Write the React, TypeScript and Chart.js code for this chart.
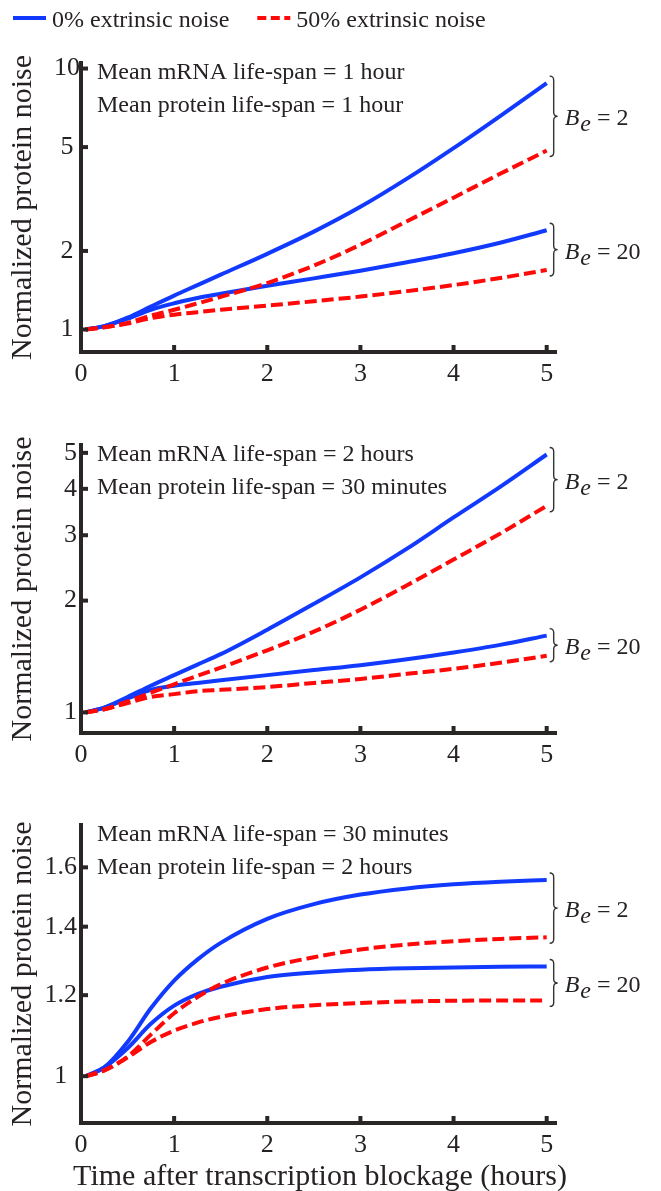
import React, { useEffect, useRef } from "react";
import { Chart, registerables } from "chart.js";

Chart.register(...registerables);

// ---------- data ----------
const TIME = [0.05, 0.25, 0.5, 0.75, 1, 1.25, 1.5, 2, 2.5, 3, 3.5, 4, 4.5, 5];
const X_TICKS = [0, 1, 2, 3, 4, 5];

// Panel 1: mRNA 1 h, protein 1 h
const P1_BE2_NOISE0 = [1.0, 1.03, 1.11, 1.224, 1.349, 1.479, 1.622, 1.95, 2.371, 2.951, 3.784, 4.955, 6.577, 8.79];
const P1_BE2_NOISE50 = [1.0, 1.02, 1.06, 1.13, 1.19, 1.259, 1.334, 1.507, 1.758, 2.113, 2.6, 3.2, 3.95, 4.85];
const P1_BE20_NOISE0 = [1.0, 1.03, 1.1, 1.19, 1.26, 1.32, 1.37, 1.47, 1.57, 1.68, 1.81, 1.96, 2.15, 2.4];
const P1_BE20_NOISE50 = [1.0, 1.02, 1.055, 1.105, 1.14, 1.165, 1.19, 1.235, 1.283, 1.337, 1.403, 1.48, 1.575, 1.69];
const P1_Y_TICKS = [1, 2, 5, 10];

// Panel 2: mRNA 2 h, protein 30 min
const P2_BE2_NOISE0 = [1.0, 1.03, 1.1, 1.18, 1.26, 1.345, 1.435, 1.67, 1.96, 2.31, 2.76, 3.35, 4.05, 4.95];
const P2_BE2_NOISE50 = [1.0, 1.02, 1.07, 1.13, 1.19, 1.255, 1.32, 1.47, 1.65, 1.89, 2.2, 2.58, 3.03, 3.6];
const P2_BE20_NOISE0 = [1.0, 1.03, 1.09, 1.15, 1.18, 1.2, 1.22, 1.26, 1.3, 1.34, 1.39, 1.45, 1.52, 1.61];
const P2_BE20_NOISE50 = [1.0, 1.02, 1.06, 1.1, 1.12, 1.14, 1.15, 1.17, 1.2, 1.23, 1.27, 1.31, 1.36, 1.42];
const P2_Y_TICKS = [1, 2, 3, 4, 5];

// Panel 3: mRNA 30 min, protein 2 h
const P3_BE2_NOISE0 = [1.0, 1.02, 1.08, 1.165, 1.24, 1.3, 1.35, 1.425, 1.473, 1.505, 1.526, 1.54, 1.549, 1.555];
const P3_BE2_NOISE50 = [1.0, 1.013, 1.045, 1.098, 1.152, 1.195, 1.23, 1.277, 1.307, 1.33, 1.345, 1.355, 1.362, 1.367];
const P3_BE20_NOISE0 = [1.0, 1.02, 1.065, 1.125, 1.172, 1.203, 1.223, 1.25, 1.263, 1.271, 1.275, 1.277, 1.279, 1.28];
const P3_BE20_NOISE50 = [1.0, 1.013, 1.043, 1.08, 1.108, 1.128, 1.143, 1.163, 1.173, 1.179, 1.183, 1.185, 1.186, 1.186];
const P3_Y_TICKS = [1, 1.2, 1.4, 1.6];

const P1_NOTES = ["Mean mRNA life-span = 1 hour", "Mean protein life-span = 1 hour"];
const P2_NOTES = ["Mean mRNA life-span = 2 hours", "Mean protein life-span = 30 minutes"];
const P3_NOTES = ["Mean mRNA life-span = 30 minutes", "Mean protein life-span = 2 hours"];

const LEGEND_LABELS = ["0% extrinsic noise", "50% extrinsic noise"];
const BRACE_VALUES = ["2", "20"];
const Y_TITLE = "Normalized protein noise";
const X_TITLE = "Time after transcription blockage (hours)";

// ---------- styles ----------
const FONT = '"Liberation Serif", "Times New Roman", serif';
const TEXT = "#262223";
const AXIS = "#2b2626";
const BLUE = "rgb(18, 58, 255)";
const RED = "rgb(255, 8, 8)";
const DASH = [12, 5];

type PanelCfg = {
  top: number;
  height: number;
  padTop: number;
  xHeight: number;
  yMin: number;
  yMax: number;
  yTicks: number[];
  yPad: number;
  be2: [number[], number[]];
  be20: [number[], number[]];
  notes: string[];
  legend: boolean;
  xTitle: boolean;
};

const PANELS: PanelCfg[] = [
  {
    top: 0, height: 400, padTop: 63, xHeight: 48, yMin: 0.82, yMax: 10.5, yTicks: P1_Y_TICKS, yPad: 1,
    be2: [P1_BE2_NOISE0, P1_BE2_NOISE50], be20: [P1_BE20_NOISE0, P1_BE20_NOISE50],
    notes: P1_NOTES, legend: true, xTitle: false,
  },
  {
    top: 400, height: 380, padTop: 45, xHeight: 47, yMin: 0.88, yMax: 5.25, yTicks: P2_Y_TICKS, yPad: 4,
    be2: [P2_BE2_NOISE0, P2_BE2_NOISE50], be20: [P2_BE20_NOISE0, P2_BE20_NOISE50],
    notes: P2_NOTES, legend: false, xTitle: false,
  },
  {
    top: 780, height: 411, padTop: 45, xHeight: 68, yMin: 0.9, yMax: 1.76, yTicks: P3_Y_TICKS, yPad: 4,
    be2: [P3_BE2_NOISE0, P3_BE2_NOISE50], be20: [P3_BE20_NOISE0, P3_BE20_NOISE50],
    notes: P3_NOTES, legend: false, xTitle: true,
  },
];

function drawBrace(ctx: CanvasRenderingContext2D, x: number, top: number, bottom: number) {
  const mid = (top + bottom) / 2;
  const r = 4;
  ctx.beginPath();
  ctx.moveTo(x - 4, top);
  ctx.quadraticCurveTo(x, top, x, top + r);
  ctx.lineTo(x, mid - r);
  ctx.quadraticCurveTo(x, mid, x + r, mid);
  ctx.quadraticCurveTo(x, mid, x, mid + r);
  ctx.lineTo(x, bottom - r);
  ctx.quadraticCurveTo(x, bottom, x - 4, bottom);
  ctx.stroke();
}

const decorPlugin = {
  id: "decor",
  afterDraw(chart: any, _args: any, opts: any) {
    const ctx: CanvasRenderingContext2D = chart.ctx;
    const area = chart.chartArea;
    const xs = chart.scales.x;
    const ys = chart.scales.y;
    ctx.save();

    // inward tick marks
    ctx.fillStyle = AXIS;
    for (const v of opts.yTicks as number[]) {
      const py = ys.getPixelForValue(v);
      ctx.fillRect(area.left, py - 2, 7, 4);
    }
    for (const v of X_TICKS) {
      if (v === 0) continue;
      const px = xs.getPixelForValue(v);
      ctx.fillRect(px - 2, area.bottom - 7, 4, 7);
    }

    // notes
    ctx.fillStyle = TEXT;
    ctx.font = `24px ${FONT}`;
    ctx.textAlign = "left";
    ctx.textBaseline = "alphabetic";
    (opts.notes as string[]).forEach((t, i) => {
      ctx.fillText(t, area.left + 16, area.top + 16 + i * 33);
    });

    // braces
    ctx.strokeStyle = "#333";
    ctx.lineWidth = 1.4;
    const groups: [number[], number[]][] = [opts.be2, opts.be20];
    groups.forEach((g, gi) => {
      const a = ys.getPixelForValue(g[0][g[0].length - 1]);
      const b = ys.getPixelForValue(g[1][g[1].length - 1]);
      const top = Math.min(a, b) - 7;
      const bottom = Math.max(a, b) + 6;
      const bx = xs.getPixelForValue(5) + 7;
      drawBrace(ctx, bx, top, bottom);
      const mid = (top + bottom) / 2;
      let tx = bx + 11;
      const base = mid + 9;
      ctx.fillStyle = TEXT;
      ctx.font = `italic 24px ${FONT}`;
      ctx.fillText("B", tx, base);
      tx += ctx.measureText("B").width + 1;
      ctx.fillText("e", tx, base + 6);
      tx += ctx.measureText("e").width;
      ctx.font = `24px ${FONT}`;
      ctx.fillText(" = " + BRACE_VALUES[gi], tx, base);
    });

    // legend
    if (opts.legend) {
      ctx.font = `24px ${FONT}`;
      ctx.fillStyle = TEXT;
      let x = 13;
      const ly = 18;
      const items = [
        { color: BLUE, dash: [] as number[], label: LEGEND_LABELS[0] },
        { color: RED, dash: [9, 4.5], label: LEGEND_LABELS[1] },
      ];
      items.forEach((it) => {
        ctx.strokeStyle = it.color;
        ctx.lineWidth = 4;
        ctx.setLineDash(it.dash);
        ctx.beginPath();
        ctx.moveTo(x, ly);
        ctx.lineTo(x + 33, ly);
        ctx.stroke();
        ctx.setLineDash([]);
        ctx.fillStyle = TEXT;
        ctx.fillText(it.label, x + 39, 27);
        x += 39 + ctx.measureText(it.label).width + 28;
      });
    }

    // x axis title
    if (opts.xTitle) {
      ctx.font = `30px ${FONT}`;
      ctx.fillStyle = TEXT;
      ctx.textAlign = "center";
      ctx.fillText(X_TITLE, 320, area.bottom + 62);
    }
    ctx.restore();
  },
};

function Panel({ cfg }: { cfg: PanelCfg }) {
  const ref = useRef<HTMLCanvasElement>(null);
  useEffect(() => {
    if (!ref.current) return;
    const pts = (arr: number[]) => TIME.map((t, i) => ({ x: t, y: arr[i] }));
    const line = (label: string, arr: number[], color: string, dashed: boolean) => ({
      label,
      data: pts(arr),
      borderColor: color,
      backgroundColor: color,
      borderWidth: 4,
      borderDash: dashed ? DASH : [],
      pointRadius: 0,
      fill: false,
      cubicInterpolationMode: "monotone" as const,
    });
    const chart = new Chart(ref.current, {
      type: "line",
      data: {
        datasets: [
          line(LEGEND_LABELS[1], cfg.be2[1], RED, true),
          line(LEGEND_LABELS[1], cfg.be20[1], RED, true),
          line(LEGEND_LABELS[0], cfg.be2[0], BLUE, false),
          line(LEGEND_LABELS[0], cfg.be20[0], BLUE, false),
        ],
      },
      options: {
        responsive: false,
        animation: false,
        devicePixelRatio: 1,
        layout: { padding: { top: cfg.padTop, right: 105, bottom: 0, left: 0 } },
        plugins: {
          legend: { display: false },
          tooltip: { enabled: false },
          // @ts-ignore
          decor: {
            yTicks: cfg.yTicks,
            notes: cfg.notes,
            be2: cfg.be2,
            be20: cfg.be20,
            legend: cfg.legend,
            xTitle: cfg.xTitle,
          },
        },
        scales: {
          x: {
            type: "linear",
            min: 0,
            max: 5.1,
            afterBuildTicks: (s: any) => {
              s.ticks = X_TICKS.map((v) => ({ value: v }));
            },
            afterFit: (s: any) => {
              s.height = cfg.xHeight;
            },
            grid: { display: true, drawOnChartArea: false, drawTicks: false },
            border: { display: true, color: AXIS, width: 4 },
            ticks: {
              padding: 7,
              color: TEXT,
              font: { family: FONT, size: 26 },
              maxRotation: 0,
              autoSkip: false,
              callback: (v: any) => String(v),
            },
          },
          y: {
            type: "logarithmic",
            min: cfg.yMin,
            max: cfg.yMax,
            afterBuildTicks: (s: any) => {
              s.ticks = cfg.yTicks.map((v) => ({ value: v }));
            },
            afterFit: (s: any) => {
              s.width = 81;
            },
            grid: { display: true, drawOnChartArea: false, drawTicks: false },
            border: { display: true, color: AXIS, width: 4 },
            ticks: {
              padding: cfg.yPad,
              crossAlign: "center",
              color: TEXT,
              font: { family: FONT, size: 26 },
              autoSkip: false,
              callback: (v: any) => String(v),
            },
            title: {
              display: true,
              text: Y_TITLE,
              color: TEXT,
              font: { family: FONT, size: 30 },
              padding: { top: 5, bottom: 0 },
            },
          },
        },
      } as any,
      plugins: [decorPlugin],
    });
    let alive = true;
    const fonts = (document as any).fonts;
    if (fonts && fonts.ready) {
      fonts.ready.then(() => {
        if (alive) chart.update();
      });
    }
    return () => {
      alive = false;
      chart.destroy();
    };
  }, [cfg]);
  return (
    <canvas
      ref={ref}
      width={661}
      height={cfg.height}
      style={{ position: "absolute", left: 0, top: cfg.top, width: 661, height: cfg.height }}
    />
  );
}

export default function App() {
  useEffect(() => {
    document.body.style.margin = "0";
    document.body.style.background = "#fff";
  }, []);
  return (
    <div style={{ position: "relative", width: 661, height: 1191, background: "#fff", overflow: "hidden" }}>
      {PANELS.map((p, i) => (
        <Panel key={i} cfg={p} />
      ))}
    </div>
  );
}
